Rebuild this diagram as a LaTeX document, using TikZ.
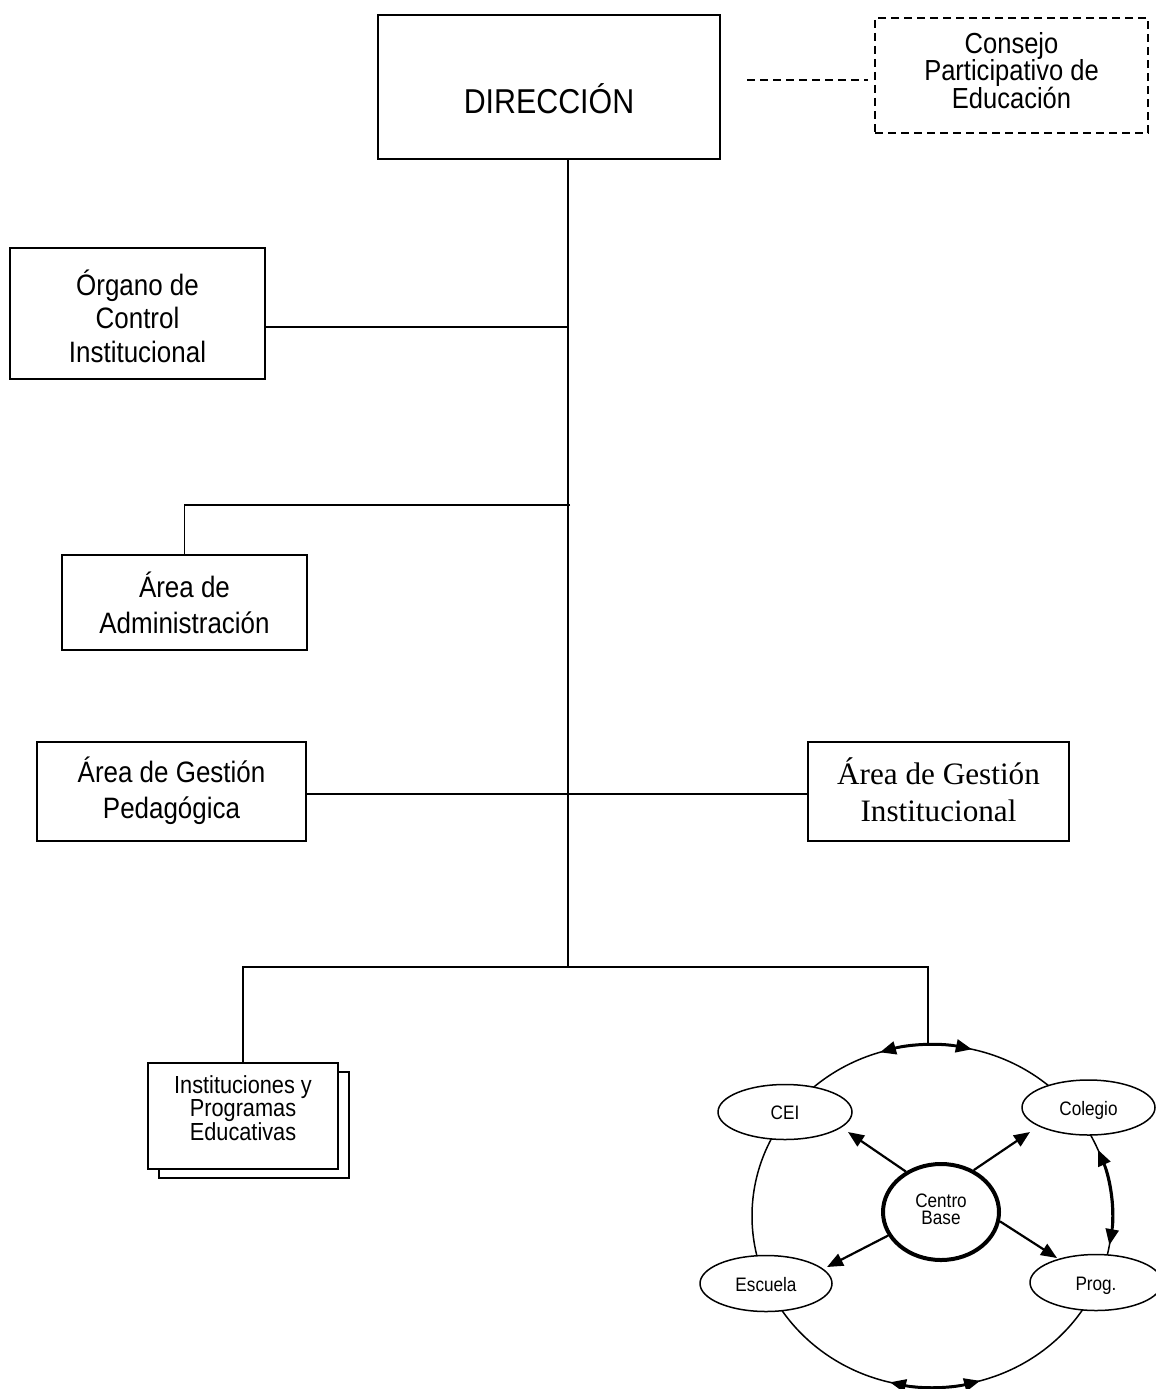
\documentclass[tikz,border=0pt]{standalone}
\usepackage{fontspec}
\setmainfont{Liberation Serif}
\newfontfamily\narrowsans[FakeStretch=0.88]{Liberation Sans}
\usetikzlibrary{shapes.geometric,arrows.meta}
\newcommand\fsz[2]{\fontsize{#1}{#2}\selectfont\lineskiplimit=-100pt\relax}
\begin{document}
\begin{tikzpicture}[x=1pt,y=-1pt,
  boxst/.style={draw,line width=1.8pt,rectangle,inner sep=0pt,align=center,fill=white},
  dashbox/.style={draw,line width=1.6pt,dash pattern=on 8pt off 5pt,rectangle,inner sep=0pt,align=center},
  conn/.style={line width=1.7pt},
  dashline/.style={line width=1.6pt,dash pattern=on 8pt off 5pt},
  smallell/.style={draw,ellipse,line width=1.5pt,fill=white,inner sep=0pt,minimum width=132pt,minimum height=55pt,
    font=\narrowsans\fsz{19.5}{22},text height=15pt,text depth=0pt},
  arr/.style={line width=2.2pt,-{Triangle[length=16pt,width=13pt]}},
  ringarr/.style={line width=2.6pt,{Triangle[length=16pt,width=13pt]}-{Triangle[length=16pt,width=13pt]}}
]
\useasboundingbox (0,0) rectangle (1156,1389);

% ---- boxes ----
\node[boxst,minimum width=342pt,minimum height=144pt,font=\narrowsans\fsz{34.5}{40},
      text height=52pt,text depth=0pt] (dir) at (549,87) {DIRECCIÓN};
\node[dashbox,minimum width=273pt,minimum height=115pt,font=\narrowsans\fsz{29}{27.5},
      text height=65pt,text depth=0pt] (consejo) at (1011.5,75.5) {Consejo\\Participativo de\\Educación};
\node[boxst,minimum width=255pt,minimum height=131pt,font=\narrowsans\fsz{29.5}{33.5},
      text height=97pt,text depth=0pt] (organo) at (137.5,313.5) {Órgano de\\Control\\Institucional};
\node[boxst,minimum width=245pt,minimum height=95pt,font=\narrowsans\fsz{29.5}{36},
      text height=61pt,text depth=0pt] (admin) at (184.5,602.5) {Área de\\Administración};
\node[boxst,minimum width=269pt,minimum height=99pt,font=\narrowsans\fsz{29.5}{36},
      text height=53pt,text depth=0pt] (pedag) at (171.5,791.5) {Área de Gestión\\Pedagógica};
\node[boxst,minimum width=261pt,minimum height=99pt,font=\rmfamily\fsz{31.2}{37},
      text height=59pt,text depth=0pt] (instit) at (938.5,791.5) {Área de Gestión\\Institucional};
\node[boxst,minimum width=190pt,minimum height=106pt] (instback) at (254,1125) {};
\node[boxst,minimum width=190pt,minimum height=106pt,font=\narrowsans\fsz{24.7}{23.5},
      text height=48pt,text depth=0pt] (inst) at (243,1116) {Instituciones y\\Programas\\Educativas};

% ---- connectors ----
\coordinate (sp) at (568,967);
\coordinate (bj) at (928,967);
\coordinate (j1) at (568,327);
\coordinate (j2) at (570,505);
\coordinate (dl) at (747,80);
\draw[conn] (dir.south -| sp) -- (sp);
\draw[conn] (j1) -- (j1 -| organo.east);
\draw[conn] (j2) -| (admin.north);
\draw[conn] ([yshift=-2.5pt]pedag.east) -- ([yshift=-2.5pt]instit.west);
\draw[dashline,shorten >=6pt] (dl) -- (dl -| consejo.west);

% ---- ring ----
\node[draw,ellipse,line width=1.5pt,inner sep=0pt,minimum width=360pt,minimum height=342pt] (ring) at (932,1216) {};
\draw[conn] (inst.north) |- (bj) -- (bj |- ring.north);
\draw[ringarr] (ring.center) ++(-106.8:180 and 171) arc[start angle=-106.8,end angle=-77.2,x radius=180,y radius=171];
\draw[ringarr] (ring.center) ++(-22.8:180 and 171) arc[start angle=-22.8,end angle=9.8,x radius=180,y radius=171];
\draw[ringarr] (ring.center) ++(103.5:180 and 171) arc[start angle=103.5,end angle=74.5,x radius=180,y radius=171];

\node[smallell,minimum width=134pt] (cei) at (785,1112) {CEI};
\node[smallell,minimum width=133pt] (colegio) at (1088.5,1107.5) {Colegio};
\node[smallell,minimum height=56pt] (escuela) at (766,1283.5) {Escuela};
\node[smallell,minimum height=56pt] (prog) at (1096,1282.5) {Prog.};
\node[draw,ellipse,line width=4pt,fill=white,inner sep=0pt,minimum width=116pt,minimum height=96pt,
      align=center,font=\narrowsans\fsz{19.5}{17},text height=24pt,text depth=0pt] (cb) at (941,1212) {Centro\\Base};

\coordinate (tcei) at (848,1132);
\coordinate (tcol) at (1030,1132);
\coordinate (tesc) at (827,1267);
\coordinate (tprog) at (1057,1258);
\draw[arr] (cb.131) -- (tcei);
\draw[arr] (cb.52) -- (tcol);
\draw[arr] (cb.204) -- (tesc);
\draw[arr] (cb.-9) -- (tprog);
\end{tikzpicture}
\end{document}
